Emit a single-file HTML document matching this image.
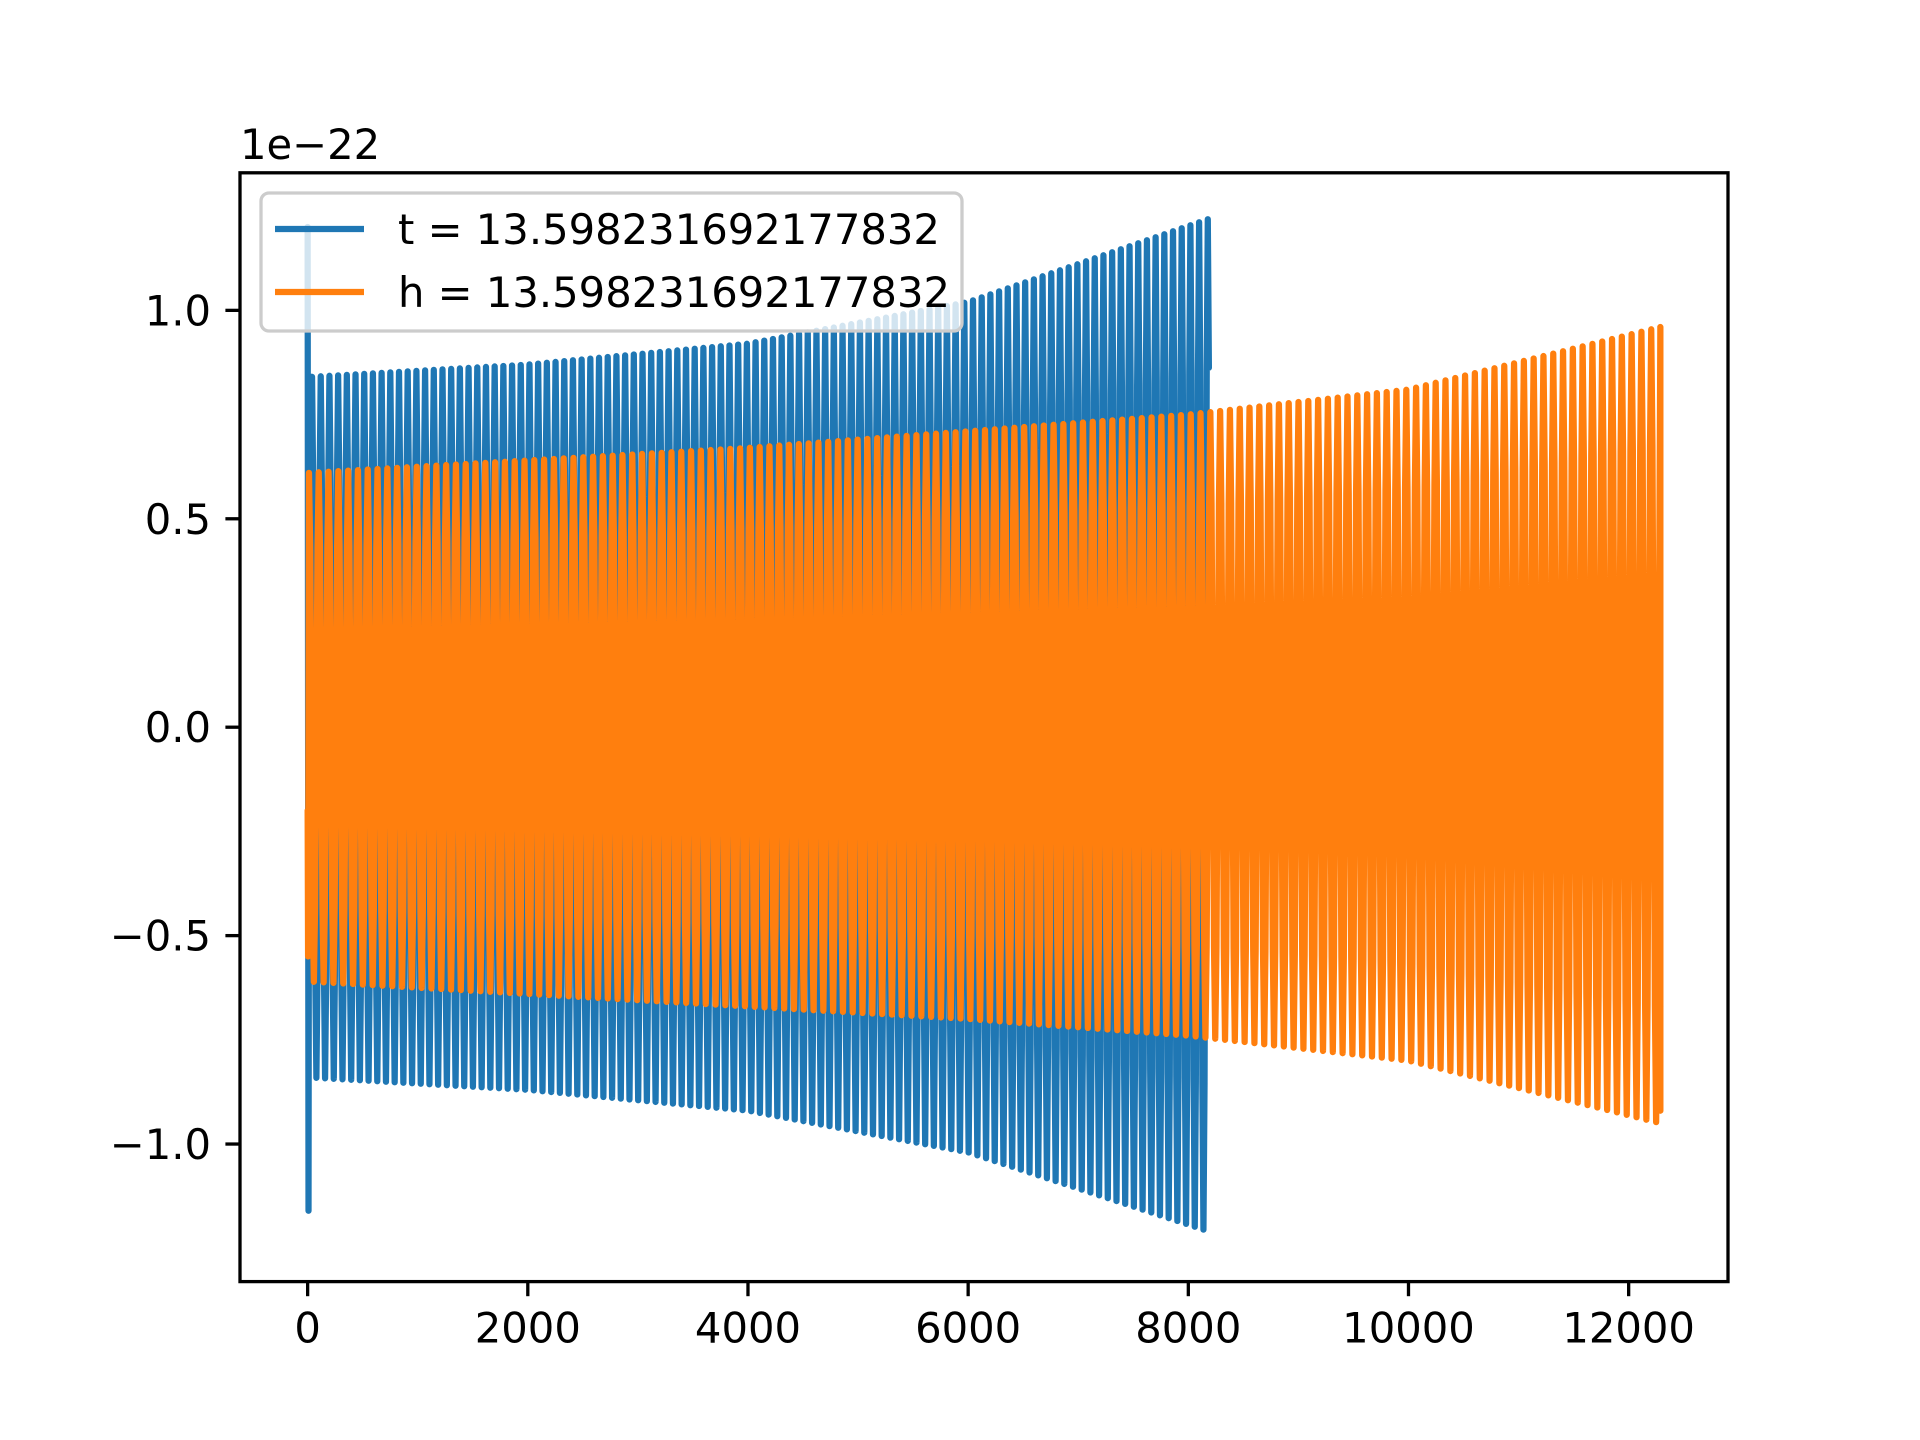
<!DOCTYPE html>
<html><head><meta charset="utf-8"><style>
html,body{margin:0;padding:0;background:#fff;}
svg{display:block;font-family:"DejaVu Sans","Liberation Sans",sans-serif;}
</style></head><body>
<svg id="chart" width="1920" height="1440" viewBox="0 0 1920 1440" xmlns="http://www.w3.org/2000/svg">
<rect width="1920" height="1440" fill="#fff"/>
<defs><clipPath id="clip"><rect x="240" y="172.8" width="1488" height="1108.8"/></clipPath></defs>
<g id="series" clip-path="url(#clip)"></g>
<rect x="240" y="172.8" width="1488" height="1108.8" fill="none" stroke="#000" stroke-width="3.3"/>
<g id="ticks"></g>
<text x="240" y="159" font-size="41.7" fill="#000">1e−22</text>
<g>
<rect x="261" y="193" width="701" height="138" rx="8" fill="#fff" fill-opacity="0.8" stroke="#ccc" stroke-width="3.3"/>
<line x1="275" y1="229" x2="364" y2="229" stroke="#1f77b4" stroke-width="6.25"/>
<text x="398" y="244" font-size="41.7">t = 13.598231692177832</text>
<line x1="275" y1="292" x2="364" y2="292" stroke="#ff7f0e" stroke-width="6.25"/>
<text x="398" y="307" font-size="41.7">h = 13.598231692177832</text>
</g>
</svg>
<script>
const xTicks = [0, 2000, 4000, 6000, 8000, 10000, 12000];
const yTicks = [-1.0, -0.5, 0.0, 0.5, 1.0];
const yTickLabels = ["−1.0", "−0.5", "0.0", "0.5", "1.0"];
const blueEnvX = [0, 2000, 4000, 6000, 8192];
const blueUpper = [0.84, 0.87, 0.92, 1.02, 1.22];
const blueLower = [-0.84, -0.87, -0.92, -1.02, -1.21];
const blueSpikeX = [0, 8, 16];
const blueSpikeY = [1.2, -1.16, 0.78];
const bluePeriod = 79;
const orangeEnvX = [0, 2000, 4000, 6000, 8000, 10000, 12288];
const orangeUpper = [0.61, 0.64, 0.67, 0.71, 0.75, 0.81, 0.96];
const orangeLower = [-0.61, -0.64, -0.67, -0.70, -0.74, -0.80, -0.95];
const orangeStartY = [-0.2, -0.55];
const orangeEndY = -0.92;
const orangePeriod = 89;

const NS = "http://www.w3.org/2000/svg";
const X0 = 240, X1 = 1728, Y0 = 172.8, Y1 = 1281.6;
const xMin = -614.4, xMax = 12902.4, yMin = -1.33, yMax = 1.33;
function sx(v){ return X0 + (v - xMin) / (xMax - xMin) * (X1 - X0); }
function sy(v){ return Y1 - (v - yMin) / (yMax - yMin) * (Y1 - Y0); }
function interp(xs, ys, x){
  if (x <= xs[0]) return ys[0];
  for (let i = 1; i < xs.length; i++) {
    if (x <= xs[i]) { const t = (x - xs[i-1]) / (xs[i] - xs[i-1]); return ys[i-1] + t * (ys[i] - ys[i-1]); }
  }
  return ys[ys.length - 1];
}
function wave(envX, up, lo, period, start, end){
  const pts = [];
  const step = period / 8;
  for (let x = start; x <= end; x += step) {
    const ph = Math.sin(2 * Math.PI * (x - start) / period + Math.PI / 2);
    const u = interp(envX, up, x), l = interp(envX, lo, x);
    const v = ph >= 0 ? ph * u : -ph * l;
    pts.push([x, v]);
  }
  return pts;
}
const g = document.getElementById("series");
function addPath(pts, color, name){
  const p = document.createElementNS(NS, "path");
  p.setAttribute("d", pts.map((q, i) => (i ? "L" : "M") + sx(q[0]).toFixed(2) + " " + sy(q[1]).toFixed(2)).join(""));
  p.setAttribute("fill", "none");
  p.setAttribute("stroke", color);
  p.setAttribute("stroke-width", "6.25");
  p.setAttribute("stroke-linejoin", "round");
  p.setAttribute("stroke-linecap", "round");
  
  
  g.appendChild(p);
}
let bpts = blueSpikeX.map((x, i) => [x, blueSpikeY[i]]);
bpts = bpts.concat(wave(blueEnvX, blueUpper, blueLower, bluePeriod, 40, blueEnvX[blueEnvX.length-1]));
addPath(bpts, "#1f77b4", "series-t");
let opts = [[0, orangeStartY[0]], [4, orangeStartY[1]]];
opts = opts.concat(wave(orangeEnvX, orangeUpper, orangeLower, orangePeriod, 12, orangeEnvX[orangeEnvX.length-1] - 10));
opts.push([orangeEnvX[orangeEnvX.length-1], orangeUpper[orangeUpper.length-1]]);
opts.push([orangeEnvX[orangeEnvX.length-1], orangeEndY]);
addPath(opts, "#ff7f0e", "series-h");

const tg = document.getElementById("ticks");
xTicks.forEach(v => {
  const l = document.createElementNS(NS, "line");
  l.setAttribute("x1", sx(v)); l.setAttribute("x2", sx(v));
  l.setAttribute("y1", Y1); l.setAttribute("y2", Y1 + 14.6);
  l.setAttribute("stroke", "#000"); l.setAttribute("stroke-width", "3.3");
  
  
  tg.appendChild(l);
  const t = document.createElementNS(NS, "text");
  t.setAttribute("x", sx(v)); t.setAttribute("y", Y1 + 61);
  t.setAttribute("text-anchor", "middle"); t.setAttribute("font-size", "41.7");
  t.textContent = String(v);
  
  
  tg.appendChild(t);
});
yTicks.forEach((v, i) => {
  const l = document.createElementNS(NS, "line");
  l.setAttribute("x1", X0 - 14.6); l.setAttribute("x2", X0);
  l.setAttribute("y1", sy(v)); l.setAttribute("y2", sy(v));
  l.setAttribute("stroke", "#000"); l.setAttribute("stroke-width", "3.3");
  
  
  tg.appendChild(l);
  const t = document.createElementNS(NS, "text");
  t.setAttribute("x", X0 - 29); t.setAttribute("y", sy(v) + 15);
  t.setAttribute("text-anchor", "end"); t.setAttribute("font-size", "41.7");
  t.textContent = yTickLabels[i];
  
  
  tg.appendChild(t);
});
</script>
</body></html>
